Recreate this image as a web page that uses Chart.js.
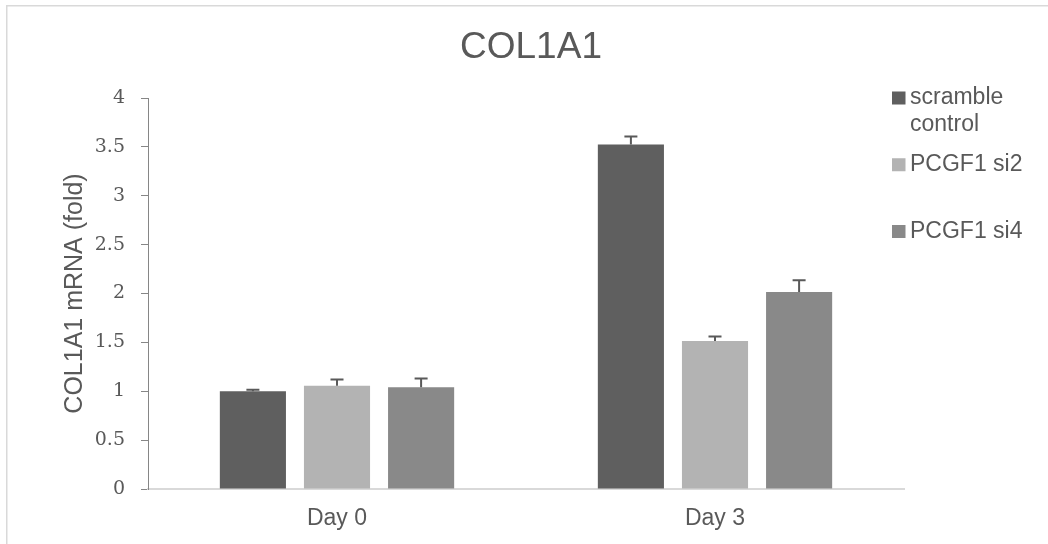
<!DOCTYPE html>
<html>
<head>
<meta charset="utf-8">
<script src="https://cdn.jsdelivr.net/npm/chart.js@4.4.0/dist/chart.umd.min.js"></script>
<style>
  body { margin: 0; background: #fff; }
  canvas { display: block; }
</style>
</head>
<body>
<canvas id="chart" width="1048" height="544"></canvas>
<script>
// --- data ---
const categories = ['Day 0', 'Day 3'];
const seriesNames = ['scramble control', 'PCGF1 si2', 'PCGF1 si4'];
const scrambleValues = [1.00, 3.525];
const si2Values = [1.055, 1.515];
const si4Values = [1.04, 2.015];
const scrambleErr = [0.015, 0.08];
const si2Err = [0.065, 0.045];
const si4Err = [0.09, 0.12];
const yTicks = { min: 0, max: 4, step: 0.5 };
const seriesColors = ['#5f5f5f', '#b3b3b3', '#898989'];
const chartTitle = 'COL1A1';

const textColor = '#595959';
const sans = '"Liberation Sans", Arial, sans-serif';

// error bars drawn from each bar through the y scale
const errorBars = {
    id: 'errorBars',
    afterDatasetsDraw(chart) {
        const ctx = chart.ctx, y = chart.scales.y;
        ctx.save();
        ctx.strokeStyle = '#595959';
        ctx.lineWidth = 2;
        chart.data.datasets.forEach((ds, i) => {
            chart.getDatasetMeta(i).data.forEach((bar, j) => {
                const top = y.getPixelForValue(ds.data[j] + ds.errors[j]);
                ctx.beginPath();
                ctx.moveTo(bar.x, bar.y);
                ctx.lineTo(bar.x, top);
                ctx.moveTo(bar.x - 6.5, top);
                ctx.lineTo(bar.x + 6.5, top);
                ctx.stroke();
            });
        });
        ctx.restore();
    }
};

// Excel-like legend on the right, with word wrap
const sideLegend = {
    id: 'sideLegend',
    afterDraw(chart) {
        const ctx = chart.ctx;
        const x0 = 892, textX = 910, maxW = 134, startY = 98, step = 66.75, lineH = 27;
        ctx.save();
        ctx.font = '23px ' + sans;
        ctx.textBaseline = 'middle';
        chart.data.datasets.forEach((ds, i) => {
            const cy = startY + i * step;
            ctx.fillStyle = ds.backgroundColor;
            ctx.fillRect(x0, cy - 6.5, 13.5, 13);
            // wrap words
            const words = ds.label.split(' ');
            const lines = [];
            let line = '';
            words.forEach(w => {
                const test = line ? line + ' ' + w : w;
                if (ctx.measureText(test).width > maxW && line) { lines.push(line); line = w; }
                else line = test;
            });
            lines.push(line);
            ctx.fillStyle = textColor;
            lines.forEach((l, k) => ctx.fillText(l, textX, cy + k * lineH));
        });
        ctx.restore();
    }
};

// light frame and title centred on the whole chart (Excel style)
const frame = {
    id: 'frame',
    beforeDraw(chart) {
        const ctx = chart.ctx;
        ctx.save();
        ctx.strokeStyle = '#d9d9d9';
        ctx.lineWidth = 1.5;
        ctx.strokeRect(6.75, 5.75, 1200, 800);
        ctx.fillStyle = textColor;
        ctx.font = '37px ' + sans;
        ctx.textAlign = 'center';
        ctx.textBaseline = 'middle';
        ctx.fillText(chartTitle, 531, 48);
        ctx.restore();
    }
};

const values = [scrambleValues, si2Values, si4Values];
const errs = [scrambleErr, si2Err, si4Err];

new Chart(document.getElementById('chart'), {
    type: 'bar',
    data: {
        labels: categories,
        datasets: seriesNames.map((name, i) => ({
            label: name,
            data: values[i],
            errors: errs[i],
            backgroundColor: seriesColors[i],
            borderWidth: 0,
            categoryPercentage: 0.6675,
            barPercentage: 0.786
        }))
    },
    options: {
        responsive: false,
        animation: false,
        layout: { padding: { left: 55, right: 144, top: 98, bottom: 0 } },
        plugins: {
            legend: { display: false },
            tooltip: { enabled: false },
            title: { display: false }
        },
        scales: {
            x: {
                grid: { display: false },
                border: { display: true, color: '#d9d9d9', width: 2 },
                ticks: { color: textColor, font: { family: sans, size: 23 }, padding: 8 },
                afterFit(scale) { scale.height = 55; }
            },
            y: {
                min: yTicks.min,
                max: yTicks.max,
                ticks: {
                    stepSize: yTicks.step,
                    color: textColor,
                    font: { family: '"DejaVu Serif", serif', size: 19 },
                    padding: 16,
                    callback: v => String(v)
                },
                grid: { display: true, drawOnChartArea: false, drawTicks: true, tickLength: 7, color: '#868686' },
                border: { display: true, color: '#868686', width: 1 },
                title: {
                    display: true,
                    text: 'COL1A1 mRNA (fold)',
                    color: textColor,
                    font: { family: sans, size: 25 },
                    padding: { top: 5, bottom: 0 }
                },
                afterFit(scale) { scale.width = 93; }
            }
        }
    },
    plugins: [errorBars, sideLegend, frame]
});
</script>
</body>
</html>
